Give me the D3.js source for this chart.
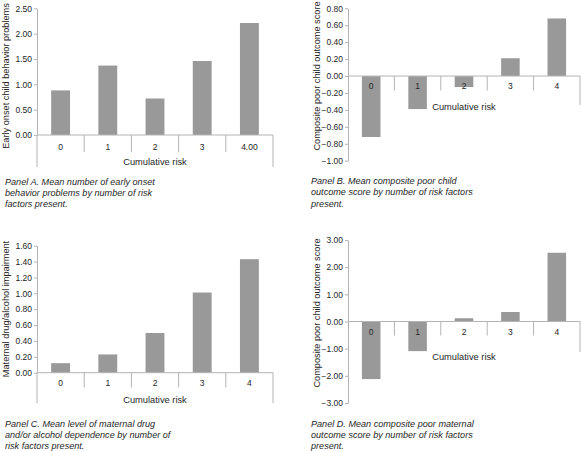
<!DOCTYPE html>
<html>
<head>
<meta charset="utf-8">
<script src="https://cdn.jsdelivr.net/npm/d3@7"></script>
<style>
  body { margin: 0; background: #fff; }
  svg { font-family: "Liberation Sans", Arial, sans-serif; }
</style>
</head>
<body>
<div id="chart"></div>
<script>
// ---------- data ----------
const categories = ["0", "1", "2", "3", "4"];
const panelACategoryLabels = ["0", "1", "2", "3", "4.00"];
const otherCategoryLabels = ["0", "1", "2", "3", "4"];

const panelAValues = [0.88, 1.37, 0.72, 1.46, 2.21];
const panelBValues = [-0.72, -0.39, -0.13, 0.21, 0.68];
const panelCValues = [0.12, 0.23, 0.50, 1.01, 1.43];
const panelDValues = [-2.12, -1.09, 0.12, 0.35, 2.53];

const panelATicks = [0, 0.5, 1, 1.5, 2, 2.5];
const panelBTicks = [-1, -0.8, -0.6, -0.4, -0.2, 0, 0.2, 0.4, 0.6, 0.8];
const panelCTicks = [0, 0.2, 0.4, 0.6, 0.8, 1, 1.2, 1.4, 1.6];
const panelDTicks = [-3, -2, -1, 0, 1, 2, 3];

const xTitle = "Cumulative risk";
const yTitles = [
    "Early onset child behavior problems",
    "Composite poor child outcome score",
    "Maternal drug/alcohol impairment",
    "Composite poor child outcome score"
];
const captions = [
    ["Panel A. Mean number of early onset", "behavior problems by number of risk", "factors present."],
    ["Panel B. Mean composite poor child", "outcome score by number of risk factors", "present."],
    ["Panel C. Mean level of maternal drug", "and/or alcohol dependence by number of", "risk factors present."],
    ["Panel D. Mean composite poor maternal", "outcome score by number of risk factors", "present."]
];

// ---------- layout (pixel positions per panel) ----------
const panels = [
    { values: panelAValues, ticks: panelATicks, labels: panelACategoryLabels, title: yTitles[0], caption: captions[0],
      left: 37, right: 273, top: 8.3, bottom: 135, divBottom: 152, edgeBottom: 167, leftEdge: true,
      tickLabelY: 147, xTitleY: 162, yTitleX: 6, yTitleY: 76, capX: 5, capY: 184.5, capStep: 11.3 },
    { values: panelBValues, ticks: panelBTicks, labels: otherCategoryLabels, title: yTitles[1], caption: captions[1],
      left: 348, right: 580, top: 8.3, bottom: 160.7, divBottom: 90.5, edgeBottom: 105, leftEdge: false,
      tickLabelY: 86, xTitleY: 107, yTitleX: 317, yTitleY: 76, capX: 311, capY: 184, capStep: 11.3 },
    { values: panelCValues, ticks: panelCTicks, labels: otherCategoryLabels, title: yTitles[2], caption: captions[2],
      left: 37, right: 273, top: 245.7, bottom: 372.7, divBottom: 387.5, edgeBottom: 403, leftEdge: true,
      tickLabelY: 383.5, xTitleY: 400, yTitleX: 6, yTitleY: 309, capX: 5, capY: 427, capStep: 11 },
    { values: panelDValues, ticks: panelDTicks, labels: otherCategoryLabels, title: yTitles[3], caption: captions[3],
      left: 348, right: 580, top: 240, bottom: 403, divBottom: 335.5, edgeBottom: 352, leftEdge: false,
      tickLabelY: 332.3, xTitleY: 357, yTitleX: 317, yTitleY: 313, capX: 311, capY: 427, capStep: 11 }
];

const barColor = "#999999";
const axisColor = "#b4b4b4";
const textColor = "#262626";

const svg = d3.select("#chart")
    .append("svg")
    .attr("width", 581)
    .attr("height", 451);

panels.forEach(function (p) {
    const g = svg.append("g");

    const yMin = d3.min(p.ticks), yMax = d3.max(p.ticks);
    const y = d3.scaleLinear()
        .domain([yMin, yMax])
        .range([p.bottom, p.top]);

    const x = d3.scaleBand()
        .domain(categories)
        .range([p.left, p.right])
        .padding(0);
    const bw = x.bandwidth();
    const zeroY = y(0);

    // bars
    g.selectAll("rect.bar")
        .data(p.values)
        .enter()
        .append("rect")
        .attr("class", "bar")
        .attr("x", (d, i) => x(categories[i]) + bw * 0.3)
        .attr("width", bw * 0.4)
        .attr("y", d => Math.min(y(d), zeroY))
        .attr("height", d => Math.abs(y(d) - zeroY))
        .attr("fill", barColor);

    // y axis
    const yAxis = g.append("g")
        .attr("transform", `translate(${p.left},0)`)
        .call(d3.axisLeft(y)
            .tickValues(p.ticks)
            .tickFormat(d3.format(".2f"))
            .tickSize(3)
            .tickSizeOuter(0)
            .tickPadding(2));
    yAxis.select(".domain").attr("stroke", axisColor);
    yAxis.selectAll(".tick line").attr("stroke", axisColor);
    yAxis.selectAll(".tick text")
        .attr("fill", textColor)
        .style("font-size", "8.5px");

    // category axis: baseline, dividers, outer edges
    g.append("line")
        .attr("x1", p.left).attr("x2", p.right)
        .attr("y1", zeroY).attr("y2", zeroY)
        .attr("stroke", axisColor);

    const bounds = categories.slice(1).map(c => x(c)).concat([p.right]);
    g.selectAll("line.div")
        .data(bounds)
        .enter()
        .append("line")
        .attr("class", "div")
        .attr("x1", d => d).attr("x2", d => d)
        .attr("y1", zeroY)
        .attr("y2", (d, i) => i === bounds.length - 1 ? p.edgeBottom : p.divBottom)
        .attr("stroke", axisColor);

    if (p.leftEdge) {
        g.append("line")
            .attr("x1", p.left).attr("x2", p.left)
            .attr("y1", zeroY).attr("y2", p.edgeBottom)
            .attr("stroke", axisColor);
    }

    // category labels
    g.selectAll("text.cat")
        .data(p.labels)
        .enter()
        .append("text")
        .attr("class", "cat")
        .attr("x", (d, i) => x(categories[i]) + bw / 2)
        .attr("y", p.tickLabelY)
        .attr("dy", "0.35em")
        .attr("text-anchor", "middle")
        .attr("fill", textColor)
        .style("font-size", "8.5px")
        .text(d => d);

    // x title
    g.append("text")
        .attr("x", (p.left + p.right) / 2)
        .attr("y", p.xTitleY)
        .attr("dy", "0.35em")
        .attr("text-anchor", "middle")
        .attr("fill", textColor)
        .style("font-size", "9.3px")
        .text(xTitle);

    // y title
    g.append("text")
        .attr("transform", `translate(${p.yTitleX},${p.yTitleY}) rotate(-90)`)
        .attr("dy", "0.35em")
        .attr("text-anchor", "middle")
        .attr("fill", textColor)
        .style("font-size", "9.2px")
        .text(p.title);

    // caption
    g.append("text")
        .attr("x", p.capX)
        .attr("y", p.capY)
        .attr("fill", textColor)
        .style("font-size", "9.1px")
        .style("font-style", "italic")
        .selectAll("tspan")
        .data(p.caption)
        .enter()
        .append("tspan")
        .attr("x", p.capX)
        .attr("dy", (d, i) => i === 0 ? 0 : p.capStep)
        .text(d => d);
});
</script>
</body>
</html>
